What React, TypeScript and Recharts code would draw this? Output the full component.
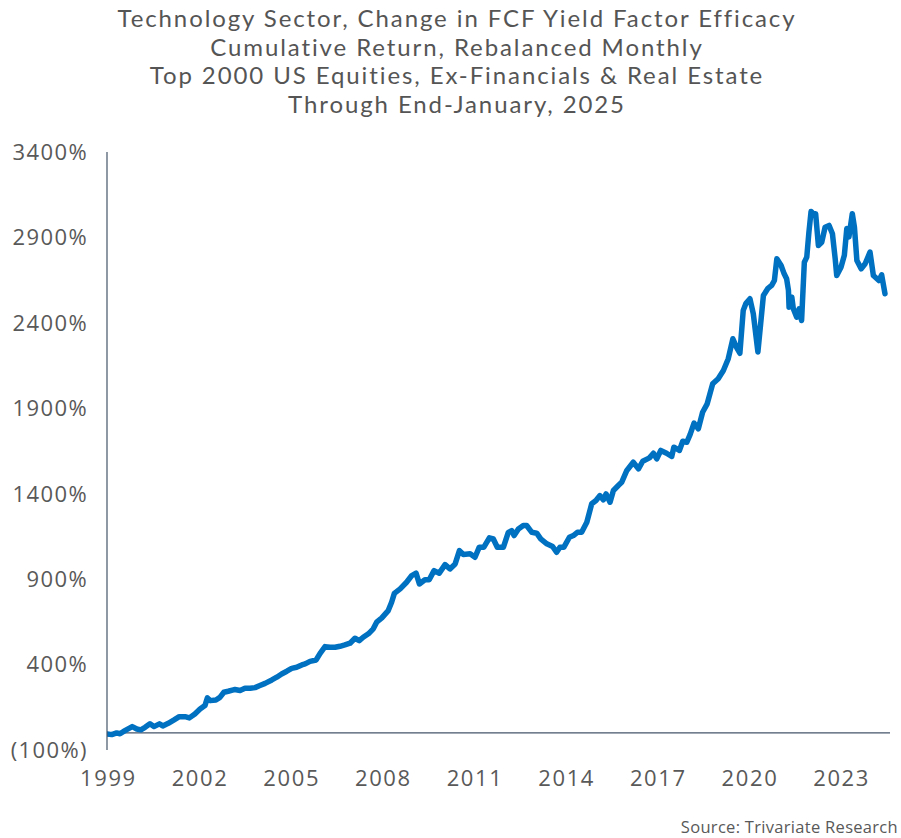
import { LineChart, Line, XAxis, YAxis, ReferenceLine } from "recharts";

const titleLines = [
  "Technology Sector, Change in FCF Yield Factor Efficacy",
  "Cumulative Return, Rebalanced Monthly",
  "Top 2000 US Equities, Ex-Financials & Real Estate",
  "Through End-January, 2025",
];

const sourceNote = "Source: Trivariate Research";

// time position (fractional year) and cumulative return in %
const dates = [
  1998.96, 1999.11, 1999.27, 1999.38, 1999.54, 1999.78, 1999.93, 2000.06, 2000.2, 2000.36,
  2000.49, 2000.67, 2000.78, 2000.96, 2001.15, 2001.32, 2001.51, 2001.65, 2001.83, 2002.0,
  2002.16, 2002.24, 2002.33, 2002.52, 2002.65, 2002.78, 2002.92, 2003.09, 2003.14, 2003.31,
  2003.47, 2003.64, 2003.8, 2003.96, 2004.13, 2004.35, 2004.51, 2004.67, 2004.84, 2005.0,
  2005.16, 2005.33, 2005.44, 2005.6, 2005.8, 2005.93, 2006.09, 2006.25, 2006.42, 2006.58,
  2006.74, 2006.91, 2007.07, 2007.21, 2007.34, 2007.51, 2007.67, 2007.78, 2007.95, 2008.16,
  2008.27, 2008.36, 2008.55, 2008.76, 2008.93, 2009.07, 2009.18, 2009.36, 2009.5, 2009.66,
  2009.83, 2010.02, 2010.18, 2010.35, 2010.49, 2010.62, 2010.84, 2011.0, 2011.14, 2011.29,
  2011.47, 2011.6, 2011.73, 2011.93, 2012.09, 2012.2, 2012.28, 2012.42, 2012.58, 2012.69,
  2012.86, 2013.02, 2013.15, 2013.35, 2013.54, 2013.67, 2013.78, 2013.91, 2014.09, 2014.22,
  2014.35, 2014.49, 2014.66, 2014.82, 2014.96, 2015.09, 2015.2, 2015.29, 2015.42, 2015.53,
  2015.69, 2015.8, 2015.97, 2016.18, 2016.35, 2016.49, 2016.71, 2016.84, 2016.95, 2017.08,
  2017.27, 2017.44, 2017.51, 2017.69, 2017.8, 2017.93, 2018.04, 2018.17, 2018.31, 2018.45,
  2018.6, 2018.78, 2018.96, 2019.13, 2019.29, 2019.44, 2019.57, 2019.67, 2019.78, 2019.87,
  2020.0, 2020.11, 2020.26, 2020.44, 2020.58, 2020.71, 2020.8, 2020.88, 2021.02, 2021.12,
  2021.2, 2021.26, 2021.28, 2021.37, 2021.42, 2021.53, 2021.61, 2021.69, 2021.78, 2021.86,
  2021.93, 2022.0, 2022.07, 2022.15, 2022.24, 2022.35, 2022.46, 2022.59, 2022.7, 2022.79,
  2022.84, 2022.98, 2023.09, 2023.17, 2023.24, 2023.35, 2023.42, 2023.5, 2023.64, 2023.77,
  2023.93, 2024.04, 2024.22, 2024.31, 2024.42,
];

const cumReturn = [
  -6, -10, 0, -5, 13, 37, 23, 18, 33, 53,
  37, 53, 41, 56, 76, 95, 95, 88, 111, 140,
  160, 205, 189, 193, 208, 238, 244, 252, 254, 248,
  261, 261, 265, 277, 290, 310, 326, 345, 361, 378,
  384, 398, 404, 419, 427, 466, 505, 501, 501, 507,
  515, 525, 554, 540, 560, 580, 609, 648, 673, 716,
  765, 817, 843, 882, 921, 935, 872, 896, 896, 950,
  935, 985, 960, 989, 1067, 1044, 1048, 1028, 1087, 1087,
  1142, 1135, 1087, 1087, 1174, 1184, 1155, 1194, 1214, 1214,
  1174, 1169, 1136, 1107, 1091, 1057, 1087, 1087, 1145, 1155,
  1174, 1174, 1233, 1341, 1360, 1389, 1364, 1399, 1350, 1419,
  1448, 1467, 1536, 1584, 1546, 1590, 1610, 1637, 1604, 1653,
  1637, 1618, 1672, 1653, 1707, 1701, 1746, 1813, 1780, 1877,
  1926, 2043, 2073, 2121, 2190, 2307, 2254, 2222, 2473, 2515,
  2541, 2453, 2230, 2560, 2600, 2619, 2648, 2775, 2736, 2687,
  2658, 2590, 2492, 2550, 2482, 2433, 2482, 2414, 2755, 2785,
  2931, 3052, 3039, 3039, 2853, 2872, 2960, 2970, 2921, 2775,
  2677, 2726, 2796, 2952, 2903, 3039, 2960, 2765, 2716, 2746,
  2814, 2677, 2648, 2681, 2570,
];

const yearTicks = [1999, 2002, 2005, 2008, 2011, 2014, 2017, 2020, 2023];
const pctTicks = [-100, 400, 900, 1400, 1900, 2400, 2900, 3400];

const data = dates.map((t, i) => ({ t, ret: cumReturn[i] }));

const FONT = '"Open Sans", sans-serif';
const TITLE_FONT = "Lato, sans-serif";
const GREY = "#595959";

const fmtPct = (v: number) => (v < 0 ? `(${Math.abs(v)}%)` : `${v}%`);

export default function App() {
  return (
    <div style={{ position: "relative", width: 901, height: 838, background: "#fff", fontFamily: FONT }}>
      <style>{`body{margin:0}`}</style>
      <div
        style={{
          position: "absolute",
          top: 4,
          left: 0,
          width: 914,
          textAlign: "center",
          color: "#555",
          fontFamily: TITLE_FONT,
          fontSize: 24,
          lineHeight: "28.7px",
          letterSpacing: 1.9,
        }}
      >
        {titleLines.map((l) => (
          <div key={l}>{l}</div>
        ))}
      </div>
      <LineChart width={901} height={838} data={data} margin={{ top: 152, right: 11, bottom: 0, left: 0 }}>
        <XAxis
          dataKey="t"
          type="number"
          domain={[1998.954, 2024.584]}
          ticks={yearTicks}
          allowDataOverflow
          axisLine={false}
          tickLine={false}
          tickSize={0}
          tickMargin={20}
          height={88}
          tick={{ fill: GREY, fontSize: 22, fontFamily: FONT, letterSpacing: 1.6 }}
        />
        <YAxis
          type="number"
          domain={[-100, 3400]}
          ticks={pctTicks}
          tickFormatter={fmtPct}
          width={107}
          axisLine={{ stroke: "#44546A", strokeWidth: 1.2 }}
          tickLine={false}
          tickSize={0}
          tickMargin={19}
          interval={0}
          tick={{ fill: GREY, fontSize: 22, fontFamily: FONT, letterSpacing: 1.4 }}
        />
        <ReferenceLine y={0} stroke="#44546A" strokeWidth={1.2} ifOverflow="extendDomain" />
        <Line
          type="linear"
          dataKey="ret"
          stroke="#0070C0"
          strokeWidth={5.5}
          dot={false}
          isAnimationActive={false}
          strokeLinejoin="round"
          strokeLinecap="round"
        />
      </LineChart>
      <div
        style={{
          position: "absolute",
          right: 3,
          top: 815,
          color: GREY,
          fontSize: 16.5,
          letterSpacing: 0.3,
        }}
      >
        {sourceNote}
      </div>
    </div>
  );
}
